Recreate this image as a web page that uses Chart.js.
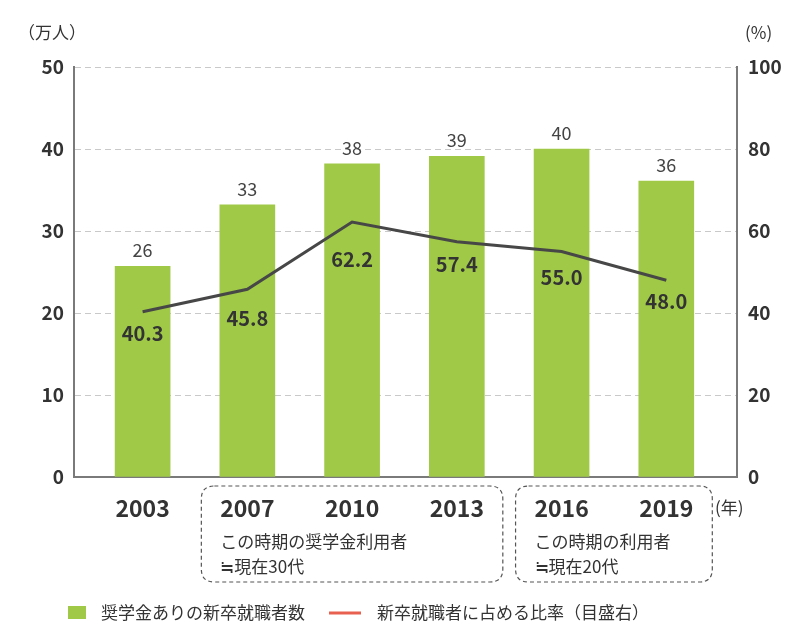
<!DOCTYPE html>
<html><head><meta charset="utf-8">
<script src="https://cdn.jsdelivr.net/npm/chart.js@4.4.1/dist/chart.umd.min.js"></script>
<style>html,body{margin:0;padding:0;background:#fff}#wrap{width:812px;height:627px;position:relative}</style>
</head><body><div id="wrap"><canvas id="c"></canvas></div>
<script>
// ---- data ----
const years = ['2003', '2007', '2010', '2013', '2016', '2019'];
const scholarshipGrads = [25.7, 33.2, 38.2, 39.1, 40.0, 36.1];   // 万人 (left axis)
const scholarshipRatio = [40.3, 45.8, 62.2, 57.4, 55.0, 48.0];   // % (right axis)
const leftTickValues = [0, 10, 20, 30, 40, 50];
const rightTickValues = [0, 20, 40, 60, 80, 100];
const barSeriesName = '奨学金ありの新卒就職者数';
const lineSeriesName = '新卒就職者に占める比率（目盛右）';
const leftUnit = '（万人）';
const rightUnit = '(%)';
const xUnit = '(年)';
const groupNotes = [
  { from: 1, to: 3, lines: ['この時期の奨学金利用者', '≒現在30代'] },
  { from: 4, to: 5, lines: ['この時期の利用者', '≒現在20代'] }
];

// ---- style ----
const FONT = "'Noto Sans CJK JP', 'Noto Sans', sans-serif";
const GREEN = '#9fc947';
const LINE = '#474747';
const RED = '#e8604f';
const AXIS = '#7a7a7a';
const TEXT = '#333333';
const lineLabelDy = [22, 29, 37, 23, 26, 21];

function roundRect(ctx, x, y, w, h, r) {
  ctx.beginPath();
  ctx.moveTo(x + r, y);
  ctx.lineTo(x + w - r, y);
  ctx.quadraticCurveTo(x + w, y, x + w, y + r);
  ctx.lineTo(x + w, y + h - r);
  ctx.quadraticCurveTo(x + w, y + h, x + w - r, y + h);
  ctx.lineTo(x + r, y + h);
  ctx.quadraticCurveTo(x, y + h, x, y + h - r);
  ctx.lineTo(x, y + r);
  ctx.quadraticCurveTo(x, y, x + r, y);
  ctx.closePath();
}

const decor = {
  id: 'decor',
  afterDraw(chart) {
    const ctx = chart.ctx;
    const area = chart.chartArea;
    const xs = chart.scales.x;
    ctx.save();
    // bar value labels
    const barMeta = chart.getDatasetMeta(1);
    ctx.font = `400 18px ${FONT}`;
    ctx.fillStyle = '#444';
    ctx.textAlign = 'center';
    ctx.textBaseline = 'middle';
    barMeta.data.forEach((el, i) => {
      ctx.fillText(String(Math.round(scholarshipGrads[i])), el.x, el.y - 16);
    });
    // line value labels
    const lineMeta = chart.getDatasetMeta(0);
    ctx.font = `700 20px ${FONT}`;
    ctx.fillStyle = TEXT;
    lineMeta.data.forEach((el, i) => {
      ctx.fillText(scholarshipRatio[i].toFixed(1), el.x, el.y + lineLabelDy[i]);
    });
    // units
    ctx.font = `400 17px ${FONT}`;
    ctx.fillStyle = TEXT;
    ctx.textAlign = 'left';
    ctx.fillText(leftUnit, 18, 33);
    ctx.fillText(rightUnit, 745, 33);
    ctx.fillText(xUnit, 715, 508);
    // dashed group boxes
    groupNotes.forEach(g => {
      const x0 = xs.getPixelForValue(g.from) - 46;
      const x1 = xs.getPixelForValue(g.to) + 46;
      const y0 = area.bottom + 9, y1 = area.bottom + 105;
      ctx.setLineDash([4, 3]);
      ctx.strokeStyle = '#555';
      ctx.lineWidth = 1.2;
      roundRect(ctx, x0, y0, x1 - x0, y1 - y0, 13);
      ctx.stroke();
      ctx.setLineDash([]);
      ctx.font = `400 17px ${FONT}`;
      ctx.fillStyle = TEXT;
      ctx.textAlign = 'left';
      g.lines.forEach((t, k) => ctx.fillText(t, x0 + 19, area.bottom + 65 + k * 25));
    });
    // legend
    ctx.fillStyle = GREEN;
    ctx.fillRect(68, 606, 18, 13);
    ctx.fillStyle = TEXT;
    ctx.font = `400 17px ${FONT}`;
    ctx.textAlign = 'left';
    ctx.fillText(barSeriesName, 101, 613);
    ctx.strokeStyle = RED;
    ctx.lineWidth = 3;
    ctx.beginPath();
    ctx.moveTo(329, 613);
    ctx.lineTo(361, 613);
    ctx.stroke();
    ctx.fillText(lineSeriesName, 377, 613);
    ctx.restore();
  }
};

new Chart(document.getElementById('c'), {
  data: {
    datasets: [
      {
        type: 'line',
        label: lineSeriesName,
        data: scholarshipRatio.map((v, i) => ({ x: i, y: v })),
        yAxisID: 'y2',
        borderColor: LINE,
        borderWidth: 3,
        pointRadius: 0,
        tension: 0,
        order: 0
      },
      {
        type: 'bar',
        label: barSeriesName,
        data: scholarshipGrads.map((v, i) => ({ x: i, y: v })),
        yAxisID: 'y',
        backgroundColor: GREEN,
        barThickness: 55,
        order: 1
      }
    ]
  },
  options: {
    responsive: true,
    maintainAspectRatio: false,
    animation: false,
    devicePixelRatio: 1,
    layout: { padding: { top: 67, left: 0, right: 0, bottom: 0 } },
    plugins: { legend: { display: false }, tooltip: { enabled: false } },
    scales: {
      x: {
        type: 'linear',
        offset: false,
        min: -0.655,
        max: 5.675,
        afterBuildTicks(s) { s.ticks = years.map((_, i) => ({ value: i })); },
        afterFit(s) { s.height = 150; },
        grid: { display: false, drawTicks: false, offset: false },
        border: { display: true, color: AXIS, width: 2 },
        ticks: {
          autoSkip: false,
          maxRotation: 0,
          padding: 17,
          color: TEXT,
          font: { family: FONT, size: 23, weight: '700' },
          callback: (v) => years[v]
        }
      },
      y: {
        position: 'left',
        min: 0,
        max: 50,
        afterBuildTicks(s) { s.ticks = leftTickValues.map(v => ({ value: v })); },
        afterFit(s) { s.width = 74; },
        grid: {
          drawTicks: false,
          color: (c) => c.tick && c.tick.value === 0 ? 'rgba(0,0,0,0)' : '#c9c9c9',
          lineWidth: 1
        },
        border: { display: true, color: AXIS, width: 2, dash: [6, 4] },
        ticks: {
          padding: 10,
          color: TEXT,
          font: { family: FONT, size: 19, weight: '700' }
        }
      },
      y2: {
        position: 'right',
        min: 0,
        max: 100,
        afterBuildTicks(s) { s.ticks = rightTickValues.map(v => ({ value: v })); },
        afterFit(s) { s.width = 75; },
        grid: { display: false, drawTicks: false },
        border: { display: true, color: AXIS, width: 2 },
        ticks: {
          padding: 11,
          color: TEXT,
          font: { family: FONT, size: 19, weight: '700' }
        }
      }
    }
  },
  plugins: [decor]
});
</script>
</body></html>
